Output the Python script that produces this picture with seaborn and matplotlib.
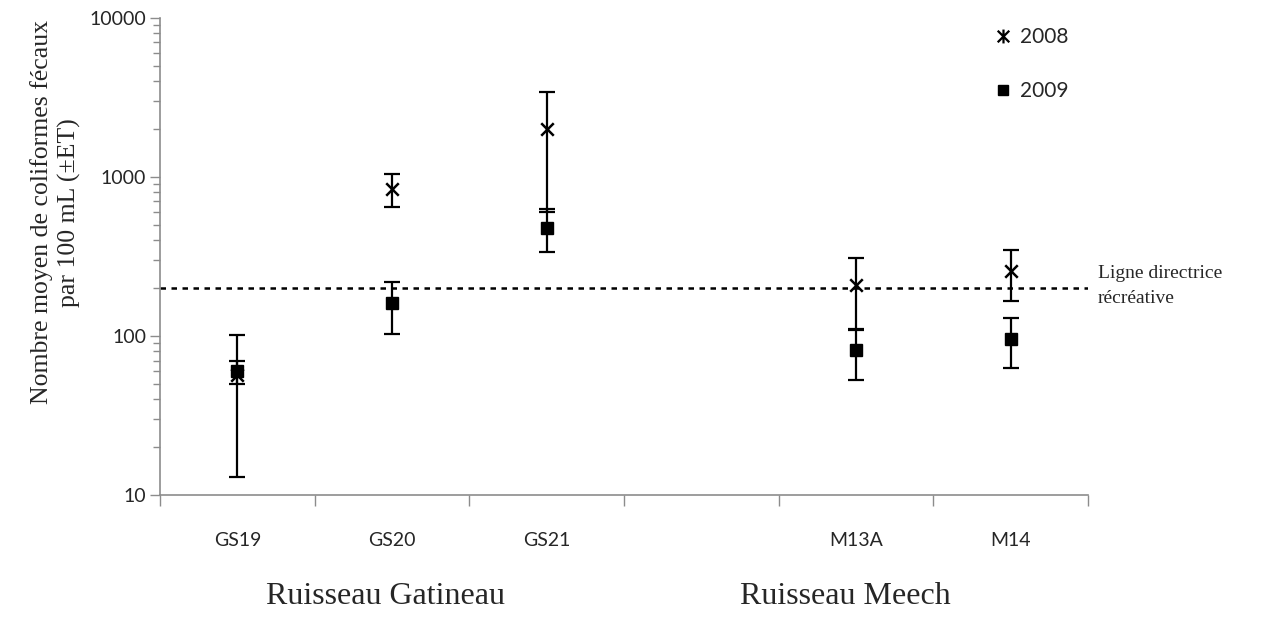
import numpy as np
import pandas as pd
import matplotlib
matplotlib.use("Agg")
import matplotlib.pyplot as plt
from matplotlib.path import Path
from matplotlib.ticker import FixedLocator, NullFormatter, FuncFormatter
from matplotlib.lines import Line2D
import seaborn as sns

# ---- data ----
categories = ["GS19", "GS20", "GS21", "", "M13A", "M14"]
sites = ["GS19", "GS20", "GS21", "M13A", "M14"]
mean_2008 = [57, 840, 2000, 208, 255]
sd_2008 = [44, 195, 1400, 99, 90]
mean_2009 = [60, 160, 480, 82, 96]
sd_2009 = [10, 57, 145, 29, 33]
guideline = 200
yticks = [10, 100, 1000, 10000]
groups = ["Ruisseau Gatineau", "Ruisseau Meech"]

sns.set_theme(style="white")
plt.rcParams["font.family"] = ["Lato", "DejaVu Sans"]

fig = plt.figure(figsize=(12.84, 6.25), dpi=100)
ax = fig.add_axes([0.1246, 0.208, 0.7228, 0.7637])

pos = [categories.index(s) for s in sites]
df = pd.DataFrame({
    "pos": pos * 2,
    "val": mean_2008 + mean_2009,
    "sd": sd_2008 + sd_2009,
    "year": ["2008"] * len(sites) + ["2009"] * len(sites),
})

star = Path([(-1, -1), (1, 1), (-1, 1), (1, -1), (0, -1.2), (0, 1.2)],
            [Path.MOVETO, Path.LINETO, Path.MOVETO, Path.LINETO, Path.MOVETO, Path.LINETO])
xmark = Path([(-1, -1), (1, 1), (-1, 1), (1, -1)],
             [Path.MOVETO, Path.LINETO, Path.MOVETO, Path.LINETO])

ax.axhline(guideline, color="black", lw=1.8, ls=(0, (2.2, 2.2)), zorder=1)

for yr in ["2008", "2009"]:
    d = df[df.year == yr]
    ax.errorbar(d.pos, d.val, yerr=d.sd, fmt="none", ecolor="black",
                elinewidth=1.6, capsize=5.5, capthick=1.6, zorder=2)

d8 = df[df.year == "2008"]
d9 = df[df.year == "2009"]
ax.plot(d8.pos, d8.val, ls="none", marker=xmark, ms=9, mew=1.8,
        mec="black", mfc="none", zorder=3)
ax.plot(d9.pos, d9.val, ls="none", marker="s", ms=8, color="black", zorder=3)

ax.set_yscale("log")
ax.set_ylim(10, 10000)
ax.set_xlim(-0.5, len(categories) - 0.5)

# y ticks
ax.yaxis.set_major_locator(FixedLocator(yticks))
ax.yaxis.set_major_formatter(FuncFormatter(lambda v, p: f"{int(round(v))}"))
minors = [m * 10 ** e for e in range(1, 4) for m in range(2, 10)]
ax.yaxis.set_minor_locator(FixedLocator(minors))
ax.yaxis.set_minor_formatter(NullFormatter())
ax.tick_params(axis="y", which="major", direction="out", length=7, width=1,
               color="#8c8c8c", labelsize=14, pad=3, left=True)
ax.tick_params(axis="y", which="minor", direction="out", length=5, width=1,
               color="#8c8c8c", left=True)

# x ticks: boundary marks, labels at centers
ax.xaxis.set_major_locator(FixedLocator(np.arange(-0.5, len(categories), 1.0)))
ax.xaxis.set_major_formatter(NullFormatter())
ax.xaxis.set_minor_locator(FixedLocator(np.arange(len(categories))))
ax.xaxis.set_minor_formatter(FuncFormatter(lambda v, p: categories[int(round(v))]))
ax.tick_params(axis="x", which="major", direction="out", length=8, width=1,
               color="#8c8c8c", bottom=True)
ax.tick_params(axis="x", which="minor", length=0, labelsize=14, pad=27, bottom=True)

for s in ["top", "right"]:
    ax.spines[s].set_visible(False)
for s in ["left", "bottom"]:
    ax.spines[s].set_color("#8c8c8c")
    ax.spines[s].set_linewidth(1.2)
ax.grid(False)

# y label
fig.text(0.043, 0.66, "Nombre moyen de coliformes fécaux\npar 100 mL (±ET)",
         rotation=90, ha="center", va="center", fontsize=18.5,
         family="Liberation Serif", linespacing=1.3)

# group labels
fig.text(386 / 1284, 1 - 597 / 625, groups[0], ha="center", va="center",
         fontsize=23, family="Liberation Serif")
fig.text(845 / 1284, 1 - 597 / 625, groups[1], ha="center", va="center",
         fontsize=23, family="Liberation Serif")

# guideline label
fig.text(1098 / 1284, 1 - 286 / 625, "Ligne directrice\nrécréative", ha="left",
         va="center", fontsize=14, family="Liberation Serif", linespacing=1.55)

# legend
handles = [
    Line2D([], [], ls="none", marker=star, ms=10, mew=1.6, mec="black", mfc="none"),
    Line2D([], [], ls="none", marker="s", ms=7, color="black"),
]
ax.legend(handles, ["2008", "2009"], loc="upper left",
          bbox_to_anchor=(995 / 1284, 1 - 27 / 625), bbox_transform=fig.transFigure,
          frameon=False, fontsize=15, handlelength=0.8, handletextpad=0.4,
          labelspacing=1.65, borderaxespad=0, borderpad=0)

fig.savefig("out.png", dpi=100)
